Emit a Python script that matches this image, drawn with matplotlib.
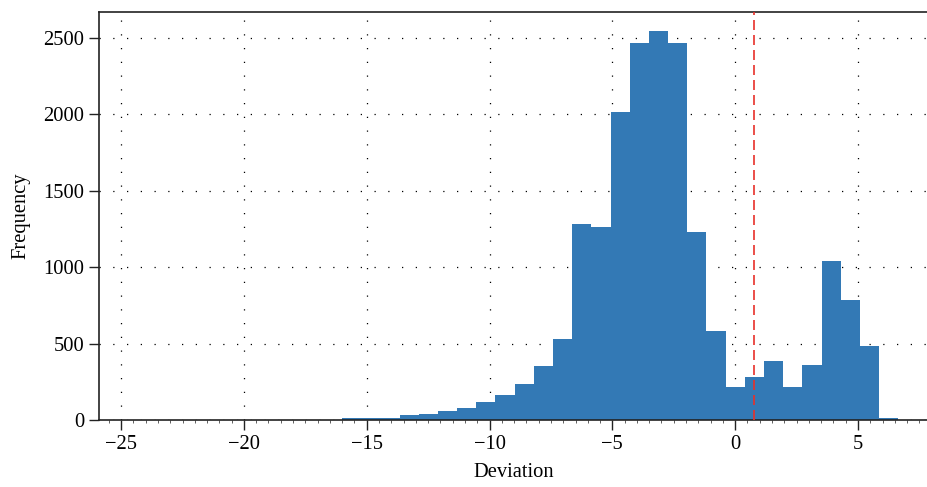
import matplotlib
matplotlib.use('Agg')
import matplotlib.pyplot as plt
import matplotlib.ticker as mticker
import numpy as np

# histogram bins: 40 bins from -24.6 to 6.64
bin_lo = -24.6
bin_hi = 6.64
n_bins = 40
# counts per bin
counts = [0, 0, 0, 0, 0, 0, 0, 0, 0, 0, 0,
          10, 10, 12, 33, 39, 59, 79, 118, 164,
          236, 353, 530, 1283, 1263, 2016, 2465, 2546, 2465, 1230,
          582, 216, 281, 386, 216, 360, 1041, 785, 484, 12]
mean_dev = 0.75

edges = np.linspace(bin_lo, bin_hi, n_bins + 1)

plt.rcParams['font.family'] = ['Liberation Serif', 'DejaVu Serif']
plt.rcParams['font.size'] = 14.8

fig = plt.figure(figsize=(9.28, 4.87), dpi=100)
ax = fig.add_axes([0.1067, 0.1376, 0.8933, 0.8378])

ax.hist(edges[:-1], bins=edges, weights=counts, color='#3379b5',
        histtype='stepfilled', zorder=2)
ax.axvline(mean_dev, color='#e8302a', lw=1.2, dashes=(6, 3), zorder=3)

ax.set_xlim(-25.9, 7.85)
ax.set_ylim(0, 2670)
ax.xaxis.set_major_locator(mticker.MultipleLocator(5))
ax.xaxis.set_minor_locator(mticker.MultipleLocator(0.5))
ax.yaxis.set_major_locator(mticker.MultipleLocator(500))

ax.tick_params(axis='both', which='major', direction='out', length=7,
               width=1, colors='#222222', labelcolor='black')
ax.tick_params(axis='x', which='minor', direction='out', length=2.5,
               width=0.6, colors='#444444')
ax.tick_params(top=False, right=False)

ax.grid(True, which='major', color='black', lw=0.9, dashes=(1, 10), zorder=1)
for s in ['left', 'bottom', 'top']:
    ax.spines[s].set_color('#222222')
    ax.spines[s].set_linewidth(1.2)
ax.spines['right'].set_visible(False)

ax.set_xlabel('Deviation', labelpad=7)
ax.set_ylabel('Frequency', labelpad=9)

fig.savefig('out.png', dpi=100)
